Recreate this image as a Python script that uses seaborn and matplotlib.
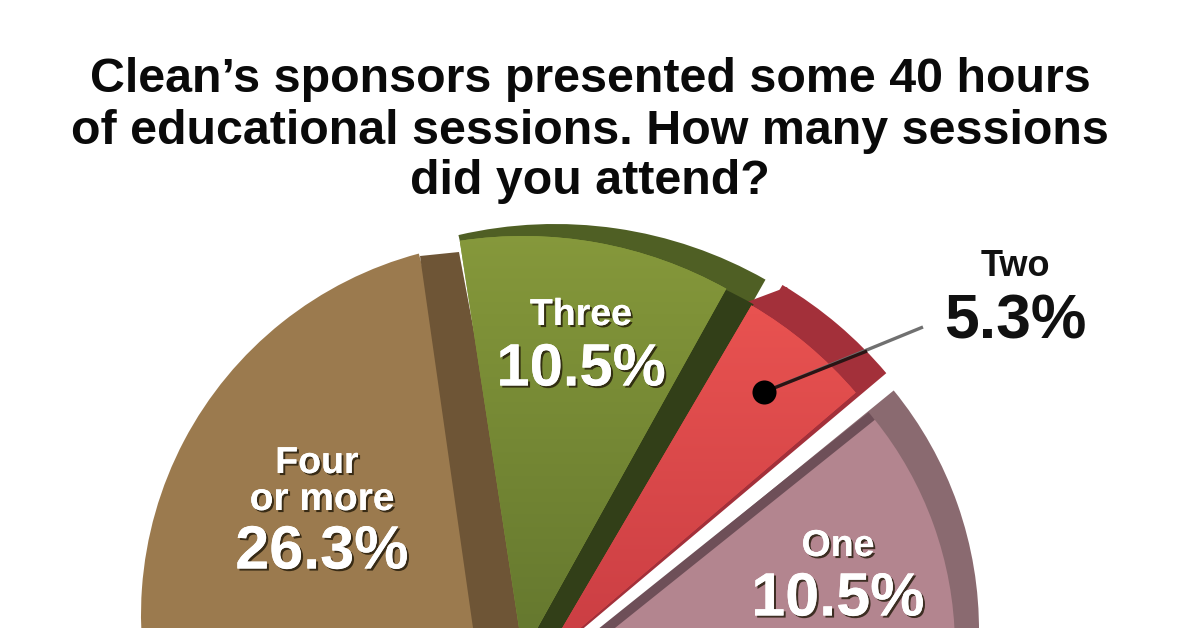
import numpy as np
import matplotlib
matplotlib.use("Agg")
import matplotlib.pyplot as plt
import matplotlib.patheffects as pe
from matplotlib.colors import LinearSegmentedColormap
import seaborn as sns

# survey shares, in percent (the rest of the pie runs off the bottom of the picture)
categories = ["Four\nor more", "Three", "Two", "One"]
shares = [26.3, 10.5, 5.3, 10.5]
share_labels = ["26.3%", "10.5%", "5.3%", "10.5%"]
title_lines = ["Clean\u2019s sponsors presented some 40 hours",
               "of educational sessions. How many sessions",
               "did you attend?"]

sns.set_theme(style="white")
plt.rcParams['font.family'] = ['Liberation Sans', 'DejaVu Sans']

W, H = 1200, 628
fig = plt.figure(figsize=(12, 6.28), dpi=100)
ax = fig.add_axes([0, 0, 1, 1])


def draw_slice(value, top_deg, cx, cy, radius, color, shade=None, z=2):
    """One wedge, clockwise from top_deg (degrees off vertical). cx, cy in image pixels."""
    wedges, _ = ax.pie([value, 100 - value], colors=[color, 'none'], startangle=90 - top_deg,
                       counterclock=False, center=(cx, H - cy), radius=radius, frame=True,
                       wedgeprops=dict(linewidth=0, zorder=z))
    wedges[1].set_visible(False)
    if shade is not None:
        # soft top to bottom shading inside the wedge
        cmap = LinearSegmentedColormap.from_list('s', shade)
        im = ax.imshow(np.linspace(0, 1, 256).reshape(-1, 1), extent=(0, W, 0, H), cmap=cmap,
                       aspect='auto', zorder=z, origin='upper')
        im.set_clip_path(wedges[0])
    return wedges[0]


four, three, two, one = shares

# Four or more
draw_slice(four, -14.9 - four * 3.6, 515, 615, 374, '#9b7a4e', z=2)
ax.fill([420, 459, 530, 473], [H - 256, H - 252, H - 628, H - 628], color='#6e5536', lw=0, zorder=3)

# Three: top rim, dark side along the right edge (its arc hides under the face), then the face
draw_slice(three * 1.13, -13.1, 555, 650, 426, '#4f5f24', z=4)
draw_slice(three * 0.915, -5, 529, 700, 455, '#323f18', z=5)
draw_slice(three, -8.7, 523, 654, 418, '#8a9c3e', shade=['#9aac46', '#7f9238', '#66792f'], z=6)

# Two
ax.fill([747, 787, 800, 760], [H - 302, H - 287, H - 320, H - 330], color='#a3303a', lw=0, zorder=4)
draw_slice(two, 30.8, 572, 638, 411, '#a3303a', z=4)
draw_slice(two, 30.4, 544, 659, 410, '#e85250', shade=['#f66464', '#e85250', '#cc3f44'], z=5)

# One
draw_slice(one * 1.05, 50.8, 600, 630, 379, '#8a6a70', z=4)
draw_slice(one * 0.4, 51.3, 537, 678, 425, '#6e4f58', z=5)
draw_slice(one, 51.3, 590, 648, 365, '#b3858f', z=6)

# leader line for the small slice
ax.plot([764, 923], [H - 392, H - 327], color='#707070', lw=2.4, zorder=7, solid_capstyle='butt')
ax.plot([764, 867], [H - 392, H - 351], color='#2a1414', lw=2.4, zorder=8, solid_capstyle='butt')
ax.scatter([764], [H - 392], s=300, color='black', linewidths=0, zorder=9)

shadow = [pe.withSimplePatchShadow(offset=(1.5, -1.5), shadow_rgbFace='#201808', alpha=0.8), pe.Normal()]


def white_text(x, y, s, size):
    ax.text(x, H - y, s, color='white', fontsize=size, fontweight='bold', ha='center', va='center',
            path_effects=shadow, zorder=10)


# slice labels
white_text(317, 463, categories[0].split("\n")[0], 27)
white_text(322, 500, categories[0].split("\n")[1], 28)
white_text(322, 553, share_labels[0], 44)
white_text(581, 315, categories[1], 27)
white_text(581, 370, share_labels[1], 43)
white_text(838, 546, categories[3], 27)
white_text(838, 600, share_labels[3], 44)
ax.text(1015, H - 266, categories[2], color='#111111', fontsize=26, fontweight='bold', ha='center', va='center', zorder=10)
ax.text(1015, H - 322, share_labels[2], color='#111111', fontsize=45, fontweight='bold', ha='center', va='center', zorder=10)

# title
for line, y in zip(title_lines, [80, 131, 182]):
    ax.text(590, H - y, line, color='#0a0a0a', fontsize=34.8, fontweight='bold', ha='center', va='center')

ax.set_xlim(0, W)
ax.set_ylim(0, H)
ax.set_aspect('auto')
ax.axis('off')
fig.savefig('out.png', dpi=100, facecolor='white')
